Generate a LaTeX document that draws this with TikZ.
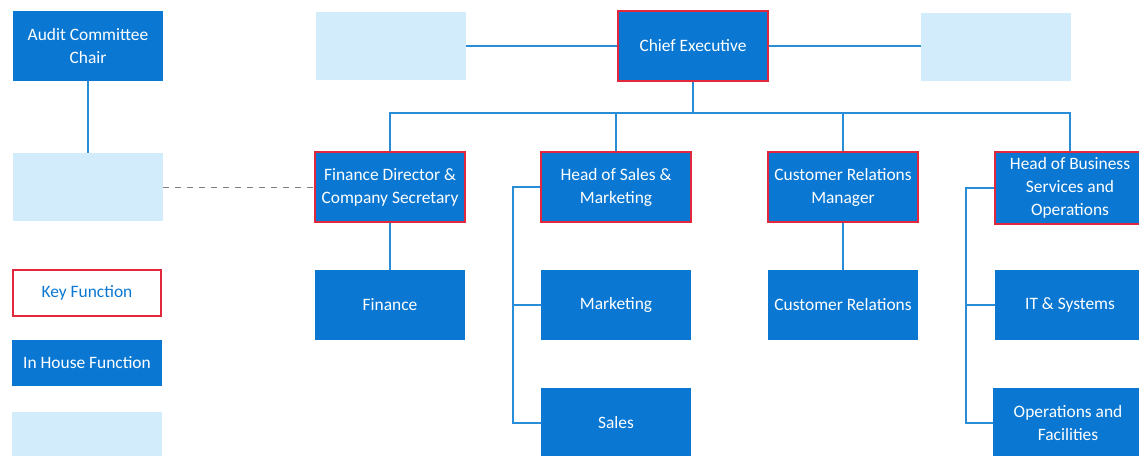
\documentclass[tikz,border=0pt]{standalone}
\usepackage{fontspec}
\setmainfont{Carlito}
\definecolor{boxblue}{RGB}{10,120,210}
\definecolor{lineblue}{RGB}{40,140,215}
\definecolor{keyred}{RGB}{225,40,60}
\definecolor{faint}{RGB}{210,236,252}
\begin{document}
\begin{tikzpicture}[x=0.5pt,y=-0.5pt,
  box/.style={rectangle,fill=boxblue,text=white,minimum width=75pt,minimum height=35pt,align=center,font=\fontsize{8.7}{11.5}\selectfont,inner sep=1pt},
  keybox/.style={box,draw=keyred,line width=0.8pt},
  fbox/.style={rectangle,fill=faint,minimum width=75pt,minimum height=34pt},
  conn/.style={draw=lineblue,line width=0.7pt}]
\useasboundingbox (0,0) rectangle (1139,455);
\clip (0,0) rectangle (1139,455);
% top row
\node[box] (acc) at (88,46) {Audit Committee\\Chair};
\node[fbox] (f1) at (391,46) {};
\node[keybox] (ce) at (693,46) {Chief Executive};
\node[fbox] (f2) at (996,47) {};
\node[fbox] (f3) at (88,187) {};
% second row
\node[keybox] (fd) at (390,187) {Finance Director \&\\Company Secretary};
\node[keybox] (hs) at (616,187) {Head of Sales \&\\Marketing};
\node[keybox] (crm) at (843,187) {Customer Relations\\Manager};
\node[keybox,minimum height=36pt] (hb) at (1070,188) {Head of Business\\Services and\\Operations};
% third row
\node[box] (fin) at (390,305) {Finance};
\node[box] (mkt) at (616,305) {Marketing};
\node[box] (cr) at (843,305) {Customer Relations};
\node[box] (it) at (1070,305) {IT \& Systems};
\node[box] (sal) at (616,423) {Sales};
\node[box] (ops) at (1068,423) {Operations and\\Facilities};
% legend
\node[rectangle,draw=keyred,line width=0.8pt,fill=white,text=boxblue,minimum width=74pt,minimum height=23pt,font=\fontsize{8.7}{11.5}\selectfont] (kf) at (87,293) {Key Function};
\node[box,minimum width=75pt,minimum height=23pt] (ih) at (87,363) {In House Function};
\node[fbox,minimum width=75pt,minimum height=22pt] (ef) at (87,434) {};
% connectors
\draw[conn] (acc.south) -- (f3.north);
\draw[conn] (f1.east) -- (ce.west);
\draw[conn] (ce.east) -- (f2.west |- ce.east);
\draw[gray,dashed,line width=0.5pt] (f3.east) -- (fd.west);
\coordinate (bus) at (693,113);
\draw[conn] (ce.south) -- (bus);
\draw[conn] (fd.north) |- (bus) -| (hb.north);
\draw[conn] (hs.north) -- (hs.north |- bus);
\draw[conn] (crm.north) -- (crm.north |- bus);
\draw[conn] (fd.south) -- (fin.north);
\draw[conn] (crm.south) -- (cr.north);
\coordinate (sx) at (513,187);
\draw[conn] (hs.west) -- (sx) |- (sal.west);
\draw[conn] (sx |- mkt.west) -- (mkt.west);
\coordinate (bx) at (966,188);
\draw[conn] (hb.west) -- (bx) |- (ops.west);
\draw[conn] (bx |- it.west) -- (it.west);
\end{tikzpicture}
\end{document}
